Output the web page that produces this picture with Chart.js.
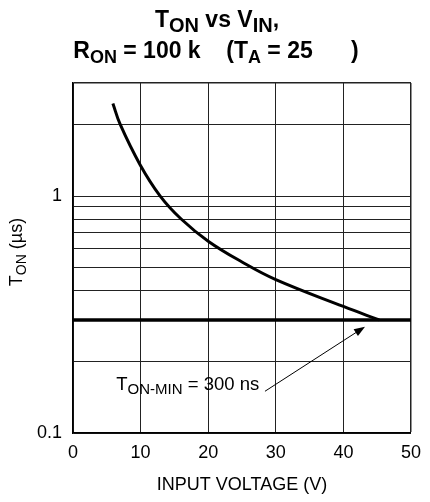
<!DOCTYPE html>
<html>
<head>
<meta charset="utf-8">
<script src="https://cdn.jsdelivr.net/npm/chart.js@4.4.0/dist/chart.umd.min.js"></script>
<style>
  html, body { margin: 0; padding: 0; background: #fff; }
  #wrap { width: 430px; height: 502px; }
</style>
</head>
<body>
<div id="wrap"><canvas id="tonChart" width="430" height="502"></canvas></div>
<script>
// curve
const vin = [5.9, 7.0, 9.9, 12.9, 16.0, 20, 25, 30, 40, 45.3];
const ton = [2.46, 2.0, 1.36, 1.0, 0.8, 0.645, 0.527, 0.444, 0.342, 0.3];

// T_ON-MIN line
const tonMinV = [0, 50];
const tonMinT = [0.3, 0.3];

// ticks
const xTicks = [0, 10, 20, 30, 40, 50];
const yTicks = [0.1, 0.2, 0.3, 0.4, 0.5, 0.6, 0.7, 0.8, 0.9, 1, 2, 3];
const yLabeled = [0.1, 1];

const FONT = '"Liberation Sans", Arial, Helvetica, sans-serif';

// text with subscripts, drawn on the canvas
function drawRich(ctx, parts, x, y, size, bold, align, subScale) {
  const weight = bold ? 'bold ' : '';
  const subSize = Math.round(size * (subScale || 0.76));
  let total = 0;
  parts.forEach(p => {
    ctx.font = weight + (p.sub ? subSize : size) + 'px ' + FONT;
    p.w = ctx.measureText(p.t).width;
    total += p.w;
  });
  let cx = align === 'center' ? x - total / 2 : x;
  ctx.textAlign = 'left';
  ctx.textBaseline = 'alphabetic';
  parts.forEach(p => {
    ctx.font = weight + (p.sub ? subSize : size) + 'px ' + FONT;
    ctx.fillText(p.t, cx, p.sub ? y + size * 0.22 : y);
    cx += p.w;
  });
}

const labelsPlugin = {
  id: 'labels',
  afterDraw(chart) {
    const ctx = chart.ctx;
    const xs = chart.scales.x, ys = chart.scales.y;
    const area = chart.chartArea;
    ctx.save();
    ctx.fillStyle = '#000';

    // title
    drawRich(ctx, [{t: 'T'}, {t: 'ON', sub: true}, {t: ' vs V'}, {t: 'IN', sub: true}, {t: ','}],
      217, 27, 23, true, 'center', 0.85);
    drawRich(ctx, [{t: 'R'}, {t: 'ON', sub: true}, {t: ' = 100 k    (T'}, {t: 'A', sub: true}, {t: ' = 25      )'}],
      216, 58, 23, true, 'center', 0.8);

    // x axis title
    drawRich(ctx, [{t: 'INPUT VOLTAGE (V)'}], (area.left + area.right) / 2, 490, 18, false, 'center');

    // y axis title
    ctx.save();
    ctx.translate(22, (area.top + area.bottom) / 2 - 6);
    ctx.rotate(-Math.PI / 2);
    drawRich(ctx, [{t: 'T'}, {t: 'ON', sub: true}, {t: ' (µs)'}], 0, 0, 18, false, 'center');
    ctx.restore();

    // annotation + arrow
    drawRich(ctx, [{t: 'T'}, {t: 'ON-MIN', sub: true}, {t: ' = 300 ns'}],
      xs.getPixelForValue(6.4), ys.getPixelForValue(0.152), 18.5, false, 'left', 0.8);

    const x0 = xs.getPixelForValue(28.4), y0 = ys.getPixelForValue(0.15);
    const x1 = xs.getPixelForValue(43.2), y1 = ys.getPixelForValue(0.281);
    const ang = Math.atan2(y1 - y0, x1 - x0);
    ctx.strokeStyle = '#000';
    ctx.lineWidth = 1;
    ctx.beginPath();
    ctx.moveTo(x0, y0);
    ctx.lineTo(x1 - 8 * Math.cos(ang), y1 - 8 * Math.sin(ang));
    ctx.stroke();
    ctx.beginPath();
    ctx.moveTo(x1, y1);
    ctx.lineTo(x1 - 11 * Math.cos(ang) + 4 * Math.sin(ang), y1 - 11 * Math.sin(ang) - 4 * Math.cos(ang));
    ctx.lineTo(x1 - 11 * Math.cos(ang) - 4 * Math.sin(ang), y1 - 11 * Math.sin(ang) + 4 * Math.cos(ang));
    ctx.closePath();
    ctx.fill();
    ctx.restore();
  }
};

const ctxT = document.getElementById('tonChart').getContext('2d');
new Chart(ctxT, {
  type: 'line',
  data: {
    datasets: [
      {
        label: 'TON',
        data: vin.map((v, i) => ({x: v, y: ton[i]})),
        borderColor: '#000',
        borderWidth: 3,
        pointRadius: 0,
        tension: 0.4,
        fill: false
      },
      {
        label: 'TON-MIN',
        data: tonMinV.map((v, i) => ({x: v, y: tonMinT[i]})),
        borderColor: '#000',
        borderWidth: 3.5,
        pointRadius: 0,
        fill: false
      }
    ]
  },
  options: {
    responsive: false,
    animation: false,
    devicePixelRatio: 1,
    layout: {padding: {top: 83, right: 13, bottom: 0, left: 0}},
    plugins: {legend: {display: false}, title: {display: false}, tooltip: {enabled: false}},
    scales: {
      x: {
        type: 'linear',
        min: 0, max: 50,
        afterBuildTicks: s => { s.ticks = xTicks.map(v => ({value: v})); },
        afterFit: s => { s.height = 69; },
        grid: {color: '#222', lineWidth: c => (c.tick && c.tick.value === 50 ? 1.5 : 1), drawTicks: false},
        border: {color: '#000', width: 1.5},
        ticks: {color: '#000', padding: 9, font: {family: FONT, size: 18}, maxRotation: 0}
      },
      y: {
        type: 'logarithmic',
        min: 0.1, max: 3,
        afterBuildTicks: s => { s.ticks = yTicks.map(v => ({value: v})); },
        afterFit: s => { s.width = 73; },
        grid: {color: '#222', lineWidth: c => (c.tick && c.tick.value === 3 ? 1.5 : 1), drawTicks: false},
        border: {color: '#000', width: 1.5},
        ticks: {
          color: '#000', padding: 11, font: {family: FONT, size: 18},
          autoSkip: false,
          callback: v => (yLabeled.includes(v) ? String(v) : '')
        }
      }
    }
  },
  plugins: [labelsPlugin]
});
</script>
</body>
</html>
